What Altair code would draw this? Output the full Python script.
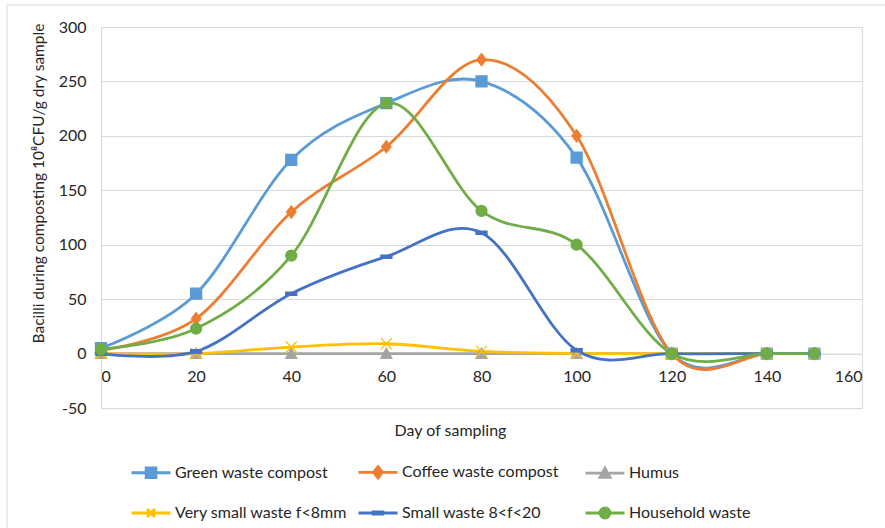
import altair as alt
import pandas as pd

# ---- data ----
days = [0, 20, 40, 60, 80, 100, 120, 140, 150]
series_names = [
    "Green waste compost",
    "Coffee waste compost",
    "Humus",
    "Very small waste f<8mm",
    "Small waste 8<f<20",
    "Household waste",
]
green_waste = [5, 55, 178, 230, 250, 180, 0, 0, 0]
coffee_waste = [3, 32, 130, 190, 270, 200, 0, 0, 0]
humus = [0, 0, 0, 0, 0, 0, 0, 0, 0]
very_small_waste = [0, 0, 6, 9, 2, 0, 0, 0, 0]
small_waste = [0, 2, 55, 89, 111, 3, 0, 0, 0]
household_waste = [4, 23, 90, 230, 131, 100, 0, 0, 0]

x_ticks = [0, 20, 40, 60, 80, 100, 120, 140, 160]
y_ticks = [-50, 0, 50, 100, 150, 200, 250, 300]

# ---- styles ----
colors = ["#5B9BD5", "#ED7D31", "#A5A5A5", "#FFC000", "#4472C4", "#70AD47"]
marker_paths = [
    "M-1,-1H1V1H-1Z",                       # square
    "M0,-1.1L0.85,0L0,1.1L-0.85,0Z",        # diamond
    "M0,-1L1,0.85H-1Z",                     # triangle
    "M-1,-1L1,1M-1,1L1,-1",                 # x
    "M-1,-0.3H1V0.3H-1Z",                   # dash
    "M1,0A1,1,0,1,1,-1,0A1,1,0,1,1,1,0Z",   # circle
]
legend_paths = [
    "M-1,0H1M-0.25,-0.25H0.25V0.25H-0.25Z",
    "M-1,0H1M0,-0.29L0.23,0L0,0.29L-0.23,0Z",
    "M-1,0H1M0,-0.26L0.26,0.21H-0.26Z",
    "M-1,0H1M-0.21,-0.21L0.21,0.21M-0.21,0.21L0.21,-0.21",
    "M-1,0H1M-0.25,-0.06H0.25V0.06H-0.25Z",
    "M-1,0H1M0.26,0A0.26,0.26,0,1,1,-0.26,0A0.26,0.26,0,1,1,0.26,0Z",
]

FONT = "Lato"
TEXT = "#262626"
GRID = "#D9D9D9"

W, H = 761, 381
Y_MIN, Y_MAX = -50, 300
zero_offset = -(H * (0 - Y_MIN) / (Y_MAX - Y_MIN))
LEG_SIZE = 39 * 39

all_values = [green_waste, coffee_waste, humus, very_small_waste, small_waste, household_waste]
rows = []
for name, vals in zip(series_names, all_values):
    for d, v in zip(days, vals):
        rows.append({"series": name, "day": d, "value": v})
df = pd.DataFrame(rows)

x_enc = alt.X(
    "day:Q",
    scale=alt.Scale(domain=[0, 160], nice=False),
    axis=alt.Axis(
        values=x_ticks,
        grid=False,
        ticks=False,
        tickSize=0,
        domain=True,
        domainColor=GRID,
        domainWidth=1,
        offset=zero_offset,
        labelPadding=15,
        labelFont=FONT,
        labelFontSize=16,
        labelColor=TEXT,
        title="Day of sampling",
        titleFont=FONT,
        titleFontSize=16,
        titleFontWeight="normal",
        titleColor=TEXT,
        titleX=349,
        titleY=430 - 27 - H - zero_offset,
        titleAlign="center",
        titleBaseline="middle",
    ),
)
y_enc = alt.Y(
    "value:Q",
    scale=alt.Scale(domain=[Y_MIN, Y_MAX], nice=False),
    axis=alt.Axis(
        values=y_ticks,
        labelExpr="'' + datum.value",
        grid=True,
        gridColor=GRID,
        gridWidth=1,
        ticks=False,
        tickSize=0,
        domain=True,
        domainColor=GRID,
        domainWidth=1,
        labelPadding=15,
        labelFont=FONT,
        labelFontSize=16,
        labelColor=TEXT,
        title="Bacilli during composting 10\u2078CFU/g dry sample",
        titleFont=FONT,
        titleFontSize=15.5,
        titleFontWeight="normal",
        titleColor=TEXT,
        titleAngle=270,
        titleX=38 - 101,
        titleY=183 - 27,
        titleAlign="center",
        titleBaseline="middle",
    ),
)


def cscale():
    return alt.Scale(domain=series_names, range=colors)


lines = alt.Chart(df).mark_line(
    interpolate="cardinal", tension=0, strokeWidth=2.8
).encode(
    x=x_enc,
    y=y_enc,
    color=alt.Color("series:N", scale=cscale(), legend=None),
    detail="series:N",
)

points = alt.Chart(df).mark_point(
    filled=True, opacity=1, size=121, strokeWidth=1.3
).encode(
    x=x_enc,
    y=y_enc,
    color=alt.Color("series:N", scale=cscale(), legend=None),
    stroke=alt.Stroke("series:N", scale=cscale(), legend=None),
    shape=alt.Shape(
        "series:N",
        scale=alt.Scale(domain=series_names, range=marker_paths),
        legend=None,
    ),
)


def make_legend():
    return alt.Legend(
        title=None,
        orient="none",
        legendX=130 - 101,
        legendY=451 - 27,
        columns=3,
        direction="horizontal",
        gridAlign="all",
        columnPadding=4,
        rowPadding=8,
        padding=0,
        symbolSize=LEG_SIZE,
        symbolStrokeWidth=2.8,
        symbolOpacity=1,
        labelOffset=3,
        labelFont=FONT,
        labelFontSize=16,
        labelColor=TEXT,
        labelLimit=400,
    )


legend_layer = alt.Chart(df).transform_filter("false").mark_point(
    filled=True, opacity=1, size=LEG_SIZE, strokeWidth=2.8
).encode(
    x=x_enc,
    y=y_enc,
    color=alt.Color("series:N", scale=cscale(), legend=make_legend()),
    stroke=alt.Stroke("series:N", scale=cscale(), legend=make_legend()),
    shape=alt.Shape(
        "series:N",
        scale=alt.Scale(domain=series_names, range=legend_paths),
        legend=make_legend(),
    ),
)

border = alt.Chart(pd.DataFrame({"k": [0]})).mark_rect(
    fillOpacity=0, stroke=GRID, strokeWidth=1
).encode(
    x=alt.value(7 - 101),
    x2=alt.value(895 - 101),
    y=alt.value(5 - 27),
    y2=alt.value(540 - 27),
)

chart = (
    alt.layer(border, lines, points, legend_layer)
    .resolve_scale(color="independent", stroke="independent", shape="independent")
    .properties(
        width=W,
        height=H,
        autosize=alt.AutoSizeParams(type="none"),
        padding={"left": 101, "top": 27, "right": 885 - 101 - W, "bottom": 528 - 27 - H},
    )
    .configure_view(stroke=None)
    .configure(background="white")
)

chart.save("out.html", embed_options={"renderer": "svg", "actions": False})
